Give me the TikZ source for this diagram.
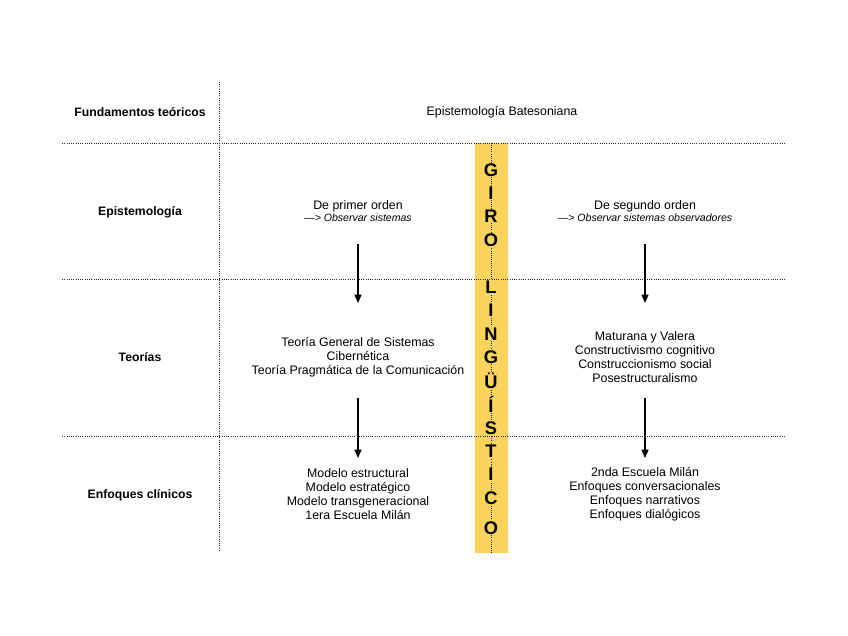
\documentclass[tikz,border=0pt]{standalone}
\usepackage{fontspec}
\setmainfont{Liberation Sans}
\usetikzlibrary{positioning, arrows.meta}
\definecolor{giro}{RGB}{250,211,92}
\newcommand{\notafont}{\fontsize{7.5}{8.5}\selectfont\itshape}

\begin{document}
\begin{tikzpicture}[x=0.025cm, y=-0.025cm,
  rowlbl/.style={font=\fontsize{8.7}{10}\selectfont\bfseries, align=center},
  cell/.style={font=\fontsize{8.8}{10}\selectfont, align=center},
  sep/.style={densely dotted, line width=0.6pt, black!85},
  arr/.style={-{Triangle[length=6pt, width=5pt]}, line width=0.9pt},
  letra/.style={font=\fontsize{13}{13}\selectfont\bfseries, fill=giro, inner sep=0.5pt},
]
\useasboundingbox (0,0) rectangle (848,636);

% Giro lingüístico band
\fill[giro] (475,143) rectangle (508,553);
\draw[sep, line width=0.5pt] (491,143) -- (491,553);

% Grid
\draw[sep] (219,82) -- (219,552);
\foreach \y in {143, 279, 436}
  \draw[sep] (62,\y) -- (786,\y);

% Row labels
\node[rowlbl] (fund) at (140,112) {Fundamentos teóricos};
\node[rowlbl] (epis) at (140,212) {Epistemología};
\node[rowlbl] (teor) at (140,357) {Teorías};
\node[rowlbl] (enfo) at (140,495) {Enfoques clínicos};

% Fundamentos
\node[cell] (bateson) at (502,112) {Epistemología Batesoniana};

% Epistemología
\node[cell] (primer) at (358,211) {De primer orden\\[-1.5pt]{\notafont —> Observar sistemas}};
\node[cell] (segundo) at (645,211) {De segundo orden\\[-1.5pt]{\notafont —> Observar sistemas observadores}};

% Teorías
\node[cell] (teorl) at (358,357) {Teoría General de Sistemas\\Cibernética\\Teoría Pragmática de la Comunicación};
\node[cell] (teorr) at (645,357) {Maturana y Valera\\Constructivismo cognitivo\\Construccionismo social\\Posestructuralismo};

% Enfoques clínicos
\node[cell] (enfol) at (358,494) {Modelo estructural\\Modelo estratégico\\Modelo transgeneracional\\1era Escuela Milán};
\node[cell] (enfor) at (645,494) {2nda Escuela Milán\\Enfoques conversacionales\\Enfoques narrativos\\Enfoques dialógicos};

% Arrows
\coordinate (l1a) at (358,244); \coordinate (l1b) at (358,303);
\coordinate (r1a) at (645,244); \coordinate (r1b) at (645,303);
\coordinate (l2a) at (358,398); \coordinate (l2b) at (358,458);
\coordinate (r2a) at (645,398); \coordinate (r2b) at (645,458);
\draw[arr] (l1a) -- (l1b);
\draw[arr] (r1a) -- (r1b);
\draw[arr] (l2a) -- (l2b);
\draw[arr] (r2a) -- (r2b);

% GIRO LINGÜÍSTICO
\foreach \l/\y in {G/170, I/193, R/216, O/240, L/287, I/310, N/334, G/357,
                   Ü/381, Í/404, S/428, T/451, I/474, C/498, O/528}
  \node[letra] (g\y) at (491,\y) {\l};

\end{tikzpicture}
\end{document}
